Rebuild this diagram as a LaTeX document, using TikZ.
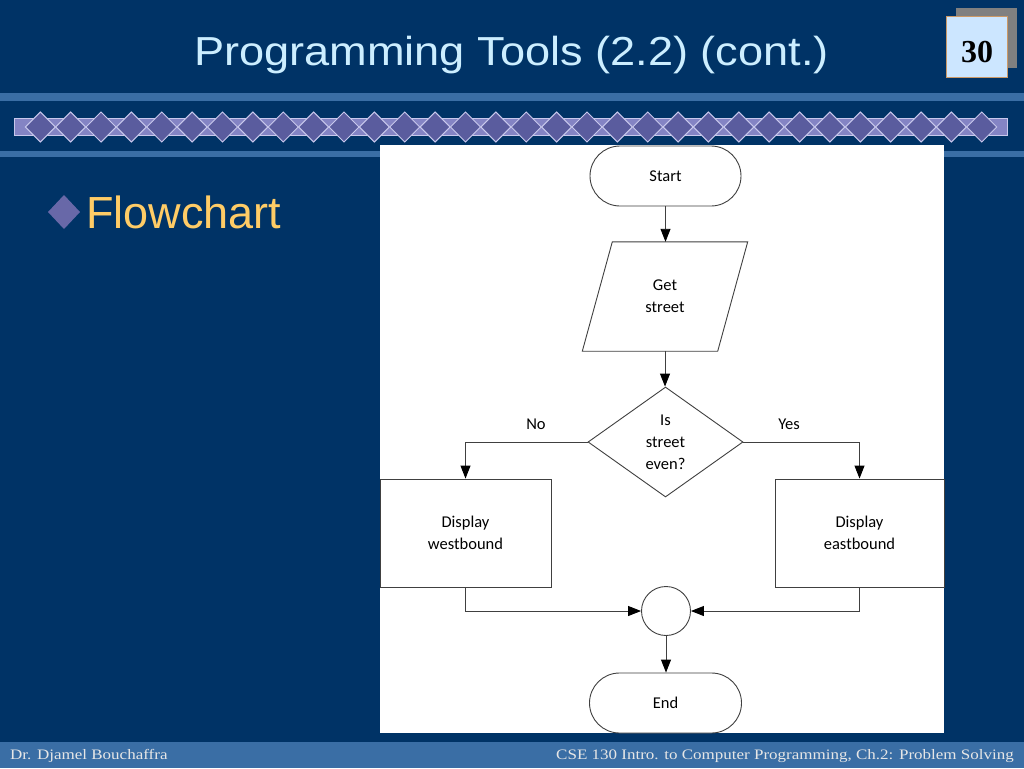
\documentclass[tikz,border=0pt]{standalone}
\usepackage{fontspec}
\usepackage{graphicx}
\setmainfont{Liberation Serif}
\newfontfamily\arialf{Liberation Sans}
\newfontfamily\flowf{Carlito}
\usetikzlibrary{shapes.geometric,shapes.misc,arrows.meta}
\definecolor{navy}{HTML}{003366}
\definecolor{stripe}{HTML}{3A6EA5}
\definecolor{barc}{HTML}{8484C4}
\definecolor{dmdfill}{HTML}{5A5C9E}
\definecolor{dmdline}{HTML}{C8C8EC}
\definecolor{titlec}{HTML}{CCEEFF}
\definecolor{yellowc}{HTML}{FFCC66}
\definecolor{boxblue}{HTML}{CCE6FF}
\definecolor{boxedge}{HTML}{CC9966}
\definecolor{shadowc}{HTML}{808080}
\definecolor{linec}{HTML}{404040}
\definecolor{footc}{HTML}{E6E6E6}
\definecolor{bulletc}{HTML}{6868A8}
\begin{document}
\begin{tikzpicture}[x=1pt,y=-1pt,
  flow/.style={font=\flowf\fontsize{16.5}{22}\selectfont, align=center, text=black},
  term/.style={flow, rounded rectangle, draw=linec, line width=0.9pt, minimum width=151pt, minimum height=60pt, inner sep=0pt, fill=white},
  procbox/.style={flow, rectangle, draw=linec, line width=0.9pt, minimum height=108pt, inner sep=0pt},
  conn/.style={draw=linec, line width=0.9pt},
  arr/.style={conn, -{Triangle[length=13pt,width=10pt,black]}},
  dmd/.style={fill=dmdfill, draw=dmdline, line width=1pt}
]
\useasboundingbox (0,0) rectangle (1024,768);
% background
\fill[navy] (0,0) rectangle (1024,768);
\fill[stripe] (0,93) rectangle (1024,101);
\fill[stripe] (0,151) rectangle (1024,157);
\fill[stripe] (0,742) rectangle (1024,768);
% diamond band
\filldraw[fill=barc, draw=dmdline, line width=0.6pt] (14,118) rectangle (1007,135);
\foreach \i in {0,...,31} {
  \pgfmathsetmacro{\cx}{40.3+\i*30.37}
  \filldraw[dmd] (\cx-15,127) -- (\cx,112) -- (\cx+15,127) -- (\cx,142) -- cycle;
}
% title
\node[anchor=base, text=titlec, font=\arialf\fontsize{40.5}{48}\selectfont, inner sep=0pt] (title) at (511.5,66) {\scalebox{1.115}[1]{Programming Tools (2.2) (cont.)}};
% page number
\fill[shadowc] (956,8) rectangle (1017,68);
\filldraw[fill=boxblue, draw=boxedge, line width=0.8pt] (946,16) rectangle (1007,77);
\node[anchor=base, font=\bfseries\fontsize{32}{36}\selectfont, inner sep=0pt] (pnum) at (977,63) {30};
% bullet
\fill[bulletc] (48,212) -- (64,195) -- (80,212) -- (64,229) -- cycle;
\node[anchor=base west, text=yellowc, font=\arialf\fontsize{45}{50}\selectfont, inner sep=0pt] (flowchart) at (86,228) {Flowchart};
% footer
\node[anchor=base west, text=footc, font=\fontsize{17}{20}\selectfont, inner sep=0pt] (footl) at (10,759) {\scalebox{1}[0.85]{Dr. Djamel Bouchaffra}};
\node[anchor=base east, text=footc, font=\fontsize{17}{20}\selectfont, inner sep=0pt] (footr) at (1014,759) {\scalebox{1}[0.85]{CSE 130 Intro. to Computer Programming, Ch.2: Problem Solving}};
% white panel
\fill[white] (380,145) rectangle (944,733);
% flowchart
\node[term] (start) at (665.5,176) {Start};
\node[flow, minimum width=135pt, minimum height=109pt, inner sep=0pt] (get) at (665,296.5) {Get\\street};
\draw[conn] ([xshift=15pt]get.north west) -- ([xshift=15pt]get.north east) -- ([xshift=-15pt]get.south east) -- ([xshift=-15pt]get.south west) -- cycle;
\node[diamond, draw=linec, line width=0.9pt, minimum width=155pt, minimum height=110pt, inner sep=0pt] (dec) at (665.5,442) {};
\node[flow] (dectext) at (dec.center) {Is\\street\\even?};
\node[procbox, minimum width=171pt] (west) at (465.5,533) {Display\\westbound};
\node[procbox, minimum width=169pt] (east) at (859.5,533) {Display\\eastbound};
\node[circle, draw=linec, line width=0.9pt, minimum size=49pt, inner sep=0pt] (join) at (666,611) {};
\node[term, minimum width=152pt] (end) at (665.5,703) {End};
\node[flow] (no) at (536,424) {No};
\node[flow] (yes) at (789,424) {Yes};
\draw[arr] (start.south) -- (start.south |- get.north);
\draw[arr] (get.south) -- (get.south |- dec.north);
\draw[arr] (dec.west) -| (west.north);
\draw[arr] (dec.east) -| (east.north);
\draw[arr] (west.south) |- (join.west);
\draw[arr] (east.south) |- (join.east);
\draw[arr] (join.south) -- (join.south |- end.north);
\end{tikzpicture}
\end{document}
